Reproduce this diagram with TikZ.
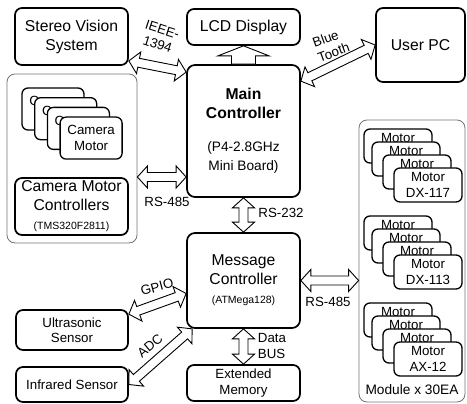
\documentclass[tikz,border=0pt]{standalone}
\usepackage{fontspec}
\setmainfont{Liberation Sans}
\usepackage{tikz}
\usetikzlibrary{calc}
\newcommand{\mainsize}{\fontsize{15.7pt}{19pt}\selectfont}
\newcommand{\subsize}{\fontsize{13.7pt}{17pt}\selectfont}
\newcommand{\cardsize}{\fontsize{13.3pt}{15.5pt}\selectfont}
\newcommand{\notesize}{\fontsize{10.5pt}{12pt}\selectfont}
\newcommand{\busarrow}[2]{%
	\coordinate (bA) at (#1);
	\coordinate (bB) at (#2);
	\coordinate (hA) at ($(bA)!10pt!(bB)$);
	\coordinate (hB) at ($(bB)!10pt!(bA)$);
	\draw[bus] (bA) -- ($(hA)!11pt!90:(bB)$) -- ($(hA)!4.5pt!90:(bB)$)
		-- ($(hB)!4.5pt!-90:(bA)$) -- ($(hB)!11pt!-90:(bA)$) -- (bB)
		-- ($(hB)!11pt!90:(bA)$) -- ($(hB)!4.5pt!90:(bA)$)
		-- ($(hA)!4.5pt!-90:(bB)$) -- ($(hA)!11pt!-90:(bB)$) -- cycle;
}

\begin{document}
\begin{tikzpicture}[x=1pt, y=-1pt,
		box/.style={draw, line width=1.7pt, rounded corners=7pt, fill=white, align=center, inner sep=1pt, font=\mainsize},
		card/.style={box, line width=1.3pt, rounded corners=6pt, font=\cardsize},
		group/.style={draw=black!55, line width=0.8pt, rounded corners=8pt, inner sep=0pt},
		tag/.style={font=\cardsize, inner sep=0pt},
		bus/.style={draw, fill=white, line width=0.9pt, line join=miter}]
			\useasboundingbox (0,0) rectangle (467,404);
			\node[box, minimum width=113pt, minimum height=57pt] (stereo) at (71.5,36.5) {Stereo Vision\\System};
			\node[box, minimum width=113pt, minimum height=36pt] (lcd) at (243.5,27) {LCD Display};
			\node[box, minimum width=89pt, minimum height=74pt] (user) at (420.5,45) {User PC};
			\node[box, minimum width=113pt, minimum height=132pt, rounded corners=8pt] (main) at (243.5,131) {
				\textbf{Main}\\
				\textbf{Controller}\\[14pt]
				{\subsize (P4-2.8GHz}\\
				{\subsize Mini Board)}
			};
			\node[group, minimum width=130pt, minimum height=169pt] (camgroup) at (72,158.5) {};
			\foreach \i in {0,1,2}
				\node[card, minimum width=62pt, minimum height=42pt] (cam\i) at ({53+12.7*\i},{109+9.7*\i}) {C\phantom{amera}\\\phantom{Motor}};
			\node[card, minimum width=62pt, minimum height=42pt] (cam3) at (91.1,138.1) {Camera\\Motor};
			\node[box, minimum width=113pt, minimum height=57pt] (camctrl) at (71.5,206.5) {
				Camera Motor\\
				Controllers\\
				{\notesize (TMS320F2811)}
			};
			\node[box, minimum width=113pt, minimum height=95pt, rounded corners=8pt] (msg) at (243.5,280.5) {
				Message\\
				Controller\\
				{\notesize (ATMega128)}
			};
			\node[box, minimum width=113pt, minimum height=36pt, font=\cardsize] (mem) at (243.5,383) {Extended\\Memory};
			\node[box, minimum width=112pt, minimum height=40pt, font=\cardsize] (ultra) at (72,330) {Ultrasonic\\Sensor};
			\node[box, minimum width=112pt, minimum height=35pt, font=\cardsize] (infra) at (72,384.5) {Infrared Sensor};
			\node[group, minimum width=106pt, minimum height=282pt] (module) at (412,261) {};
			\foreach \t/\s/\lbl in {129/dxa/DX-117, 216/dxb/DX-113, 303/ax/AX-12} {
				\foreach \i/\dx in {0/0, 1/8, 2/19}
					\node[card, minimum width=68pt, minimum height=34pt] (\s\i) at ({398+\dx},{\t+17+13*\i}) {Motor\\\phantom{\lbl}};
				\node[card, minimum width=68pt, minimum height=34pt] (\s3) at (428,{\t+56}) {Motor\\\lbl};
			}
			\node[font=\subsize, inner sep=0pt] (modlabel) at (412,390) {Module x 30EA};
			\busarrow{$(stereo.south east)+(0,-5)$}{$(main.north west)+(0,8)$}
			\busarrow{$(main.north east)+(0,17)$}{user.west}
			\busarrow{$(camgroup.east)+(0,18.5)$}{$(main.west)+(0,46)$}
			\busarrow{main.south}{msg.north}
			\busarrow{msg.east}{module.west |- msg.east}
			\busarrow{$(ultra.north east)+(0,5)$}{$(msg.west)+(0,13)$}
			\busarrow{infra.east}{$(msg.south west)+(6,0)$}
			\busarrow{msg.south}{mem.north}
			\coordinate (uA) at (main.north);
			\coordinate (uB) at (lcd.south);
			\coordinate (uH) at ($(uB)!10pt!(uA)$);
			\draw[bus] ($(uA)!12pt!90:(uB)$) -- ($(uH)!12pt!-90:(uA)$) -- ($(uH)!25.5pt!-90:(uA)$) -- (uB)
				-- ($(uH)!25.5pt!90:(uA)$) -- ($(uH)!12pt!90:(uA)$) -- ($(uA)!12pt!-90:(uB)$) -- cycle;
			\node[tag, rotate=-18, align=center] (ieee) at (160,37) {IEEE-\\1394};
			\node[tag, rotate=20, align=left] (bt) at (331,45) {Blue\\Tooth};
			\node[tag] (rsleft) at (167,202) {RS-485};
			\node[tag] (rsmid) at (281,213) {RS-232};
			\node[tag] (rsright) at (328,302) {RS-485};
			\node[tag, rotate=15] (gpio) at (157,287) {GPIO};
			\node[tag, rotate=40] (adc) at (150,346) {ADC};
			\node[tag, align=left] (dbus) at (272,346) {Data\\BUS};
		\end{tikzpicture}
\end{document}
